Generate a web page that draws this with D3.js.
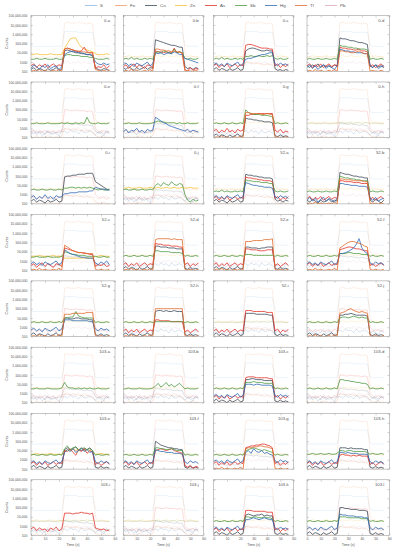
<!DOCTYPE html>
<html lang="en">
<head>
<meta charset="utf-8">
<title>Signal counts vs time</title>
<style>
  body { margin: 0; background: #fff; }
  svg { display: block; font-family: "Liberation Sans", Arial, sans-serif; }
  .frame { fill: none; stroke: #8c8c8c; stroke-width: 0.5px; }
  .axis path { display: none; }
  .axis line { stroke: #8c8c8c; stroke-width: 0.4px; }
  .axis text { font-size: 3.4px; fill: #555; }
  .lbl { font-size: 3.6px; fill: #555; }
</style>
</head>
<body>
<div id="vis"></div>
<script src="https://cdn.jsdelivr.net/npm/d3@7"></script>
<script>
// values are log10(counts) x 10, sampled every 2 s
const panelLabels = ["0-a","0-b","0-c","0-d","0-e","0-f","0-g","0-h","0-i","0-j","52-a","52-b",
  "52-c","52-d","52-e","52-f","52-g","52-h","52-i","52-j","103-a","103-b","103-c","103-d",
  "103-e","103-f","103-g","103-h","103-i","103-j","103-k","103-l"];
const elements = ["S","Fe","Cu","Zn","As","Sb","Hg","Tl","Pb"];
const elementColors = ["#8fb9e3","#f19c6a","#3d4b5c","#f2c038","#e2322b","#4f9a45","#2f69b3","#e0692a","#d9a7bb"];
const times = [0,2,4,6,8,10,12,14,16,18,20,22,24,26,28,30,32,34,36,38,40,42,44,46,48,50,52,54,56];
const xTicks = [0,10,20,30,40,50,60];
const yTicks = [1e2,1e3,1e4,1e5,1e6,1e7,1e8];
const yTickLabels = ["100","1000","10,000","100,000","1,000,000","10,000,000","100,000,000"];

// faint traces drawn for every element that is not highlighted in a panel
const fadedTraces = {
  S:  [47,47,47,47,47,47,47,47,47,47,47,47, 63,63,63,63,63,62,62,62,62,62,62, 48,47,47,47,47,47],
  Fe: [35,36,35,35,36,35,35,36,35,35,36,35, 72,73,72,72,72,73,72,72,71,72,71, 40,36,35,36,35,35],
  Cu: [26,24,27,25,26,23,27,25,24,26,25,27, 36,35,35,34,35,34,34,33,34,33,33, 27,25,26,24,27,25],
  Zn: [36,36,37,36,36,36,36,37,36,36,36,36, 36,37,36,36,37,36,36,36,37,36,36, 36,36,37,36,36,36],
  As: [26,28,25,27,26,28,25,26,27,25,28,26, 50,50,49,49,50,49,49,49,48,49,48, 30,27,26,28,25,27],
  Sb: [35,35,36,35,35,35,36,35,35,35,35,36, 36,36,35,36,36,35,36,36,35,36,36, 35,35,36,35,35,35],
  Hg: [24,27,23,26,22,25,27,23,26,24,22,26, 27,25,28,26,27,24,28,25,26,27,25, 23,26,24,22,27,24],
  Tl: [21,20,22,20,21,20,22,21,20,21,20,22, 30,29,29,28,29,28,28,27,28,27,27, 22,21,20,22,20,21],
  Pb: [26,29,25,28,27,24,29,26,28,25,27,29, 29,31,28,30,29,31,28,30,29,28,30, 27,25,28,26,29,25]
};

const boldCu = {
  "0-a":  [22,24,21,23,22,20,23,21,22,24,21,22, 42,43,42,41,40,40,39,39,38,38,37, 24,22,21,23,22,21],
  "0-b":  [24,22,25,23,21,24,22,23,25,22,24,23, 54,53,52,51,50,49,48,48,47,46,46, 25,23,24,22,24,23],
  "0-c":  [22,24,21,23,22,20,23,21,22,24,21,22, 42,44,45,45,44,43,42,42,43,42,42, 23,21,22,20,22,21],
  "0-d":  [26,24,27,25,28,24,27,25,26,24,27,25, 56,55,55,54,53,53,52,51,51,50,49, 26,24,27,25,26,24],
  "0-g":  [22,24,21,23,22,20,23,21,22,24,21,22, 41,40,40,39,39,38,38,37,37,37,36, 22,21,23,21,22,21],
  "0-i":  [23,25,22,24,23,21,24,22,23,25,22,23, 49,50,50,51,51,52,52,52,53,53,53, 44,42,40,38,36,35],
  "52-a": [23,25,22,24,23,21,24,22,23,25,22,23, 52,51,51,50,50,49,49,48,48,48,47, 25,23,24,22,24,23],
  "52-b": [24,22,25,23,21,24,22,23,25,22,24,23, 54,53,52,52,51,50,50,49,49,48,48, 24,22,25,23,21,24],
  "52-d": [22,24,21,23,22,20,23,21,22,24,21,22, 46,46,45,45,45,44,44,44,43,43,43, 22,21,23,21,22,21],
  "52-e": [22,24,21,23,22,20,23,21,22,24,21,22, 45,45,44,44,44,43,44,44,45,45,45, 22,21,23,21,22,21],
  "52-g": [22,24,21,23,22,20,23,21,22,24,21,22, 40,40,39,39,40,40,39,39,39,38,38, 22,21,23,21,22,21],
  "52-h": [22,24,21,23,22,20,23,21,22,24,21,22, 47,48,48,47,48,47,47,48,47,47,47, 22,21,23,21,22,21],
  "52-i": [22,24,21,23,22,20,23,21,22,24,21,22, 45,45,45,45,44,44,44,44,44,43,43, 22,21,23,21,22,21],
  "52-j": [22,24,21,23,22,20,23,21,22,24,21,22, 43,43,44,44,45,44,43,43,43,43,42, 22,21,23,21,22,21],
  "103-c": [22,24,21,23,22,20,23,21,22,24,21,22, 45,45,46,46,45,45,45,44,44,44,44, 22,21,23,21,22,21],
  "103-e": [22,24,21,23,22,20,23,21,22,24,21,22, 41,43,40,42,44,41,40,42,41,43,40, 22,21,23,21,22,21],
  "103-f": [22,24,21,23,22,20,23,21,22,24,21,22, 50,48,46,45,44,43,43,42,42,41,41, 22,21,23,21,22,21],
  "103-h": [22,24,21,23,22,20,23,21,22,24,21,22, 43,43,43,42,43,42,42,42,42,41,41, 22,21,23,21,22,21],
  "103-k": [22,24,21,23,22,20,23,21,22,24,21,22, 42,43,42,41,42,42,43,41,42,41,41, 22,21,23,21,22,21],
  "103-l": [22,24,21,23,22,20,23,21,22,24,21,22, 50,50,49,49,48,48,48,47,47,47,46, 22,21,23,21,22,21]
};

const boldZn = {
  "0-a":  [38,38,39,38,38,38,38,39,38,38,38,38, 45,50,55,56,56,50,46,44,43,42,41, 39,38,38,38,39,38],
  "0-j":  [37,37,38,37,37,37,38,37,37,37,38,37, 37,38,37,37,38,37,37,38,37,37,38, 37,37,38,37,37,37],
  "52-c": [35,35,35,36,35,35,35,35,36,35,35,35, 33,33,33,33,33,33,33,33,33,33,33, 35,35,36,35,35,35],
  "103-e": [36,36,37,36,36,36,36,37,36,36,36,36, 39,41,40,42,40,41,43,40,41,40,39, 36,36,37,36,36,36]
};

const boldAs = {
  "0-a":  [26,28,24,27,25,28,24,26,28,25,27,26, 44,45,44,43,42,41,42,46,41,40,40, 23,25,24,27,23,26],
  "0-b":  [25,27,23,26,28,24,27,25,23,27,26,24, 42,41,41,40,41,40,40,45,40,41,39, 22,20,24,21,23,22],
  "0-c":  [26,28,24,27,25,28,24,26,28,25,27,26, 48,49,49,48,47,46,45,45,45,44,44, 26,28,24,27,25,28],
  "0-d":  [26,28,24,27,25,28,24,26,28,25,27,26, 46,45,45,44,44,43,43,44,42,42,41, 25,27,24,26,28,25],
  "0-g":  [27,29,25,28,26,30,26,28,25,29,27,28, 44,44,45,45,45,46,46,46,46,46,46, 28,26,29,25,27,26],
  "52-a": [26,28,24,27,25,28,24,26,28,25,27,26, 49,48,48,47,47,46,46,45,45,45,44, 26,28,24,27,25,28],
  "52-b": [26,28,24,27,25,28,24,26,28,25,27,26, 45,45,44,44,44,43,43,43,42,42,42, 25,27,24,26,28,25],
  "52-c": [25,27,23,26,28,24,27,25,23,27,26,24, 44,43,42,41,40,39,39,38,38,37,37, 24,26,25,27,24,25],
  "52-d": [26,28,24,27,25,28,24,26,28,25,27,26, 49,48,48,47,47,47,46,46,46,45,45, 26,28,24,27,25,28],
  "52-e": [26,28,24,27,25,28,24,26,28,25,27,26, 43,43,42,42,42,41,41,41,42,42,42, 25,27,24,26,28,25],
  "52-f": [26,28,24,27,25,28,24,26,28,25,27,26, 42,43,44,45,45,44,43,43,42,41,41, 25,27,24,26,28,25],
  "52-h": [26,28,24,27,25,28,24,26,28,25,27,26, 38,38,37,37,37,37,36,36,36,36,36, 25,27,24,26,28,25],
  "52-i": [26,28,24,27,25,28,24,26,28,25,27,26, 48,48,48,47,47,47,47,47,46,46,46, 26,28,24,27,25,28],
  "103-c": [26,28,24,27,25,28,24,26,28,25,27,26, 47,48,48,48,47,47,47,47,47,46,46, 26,28,24,27,25,28],
  "103-e": [26,28,24,27,25,28,24,26,28,25,27,26, 40,39,42,38,35,41,39,42,37,40,38, 25,27,24,26,28,25],
  "103-f": [26,28,24,27,25,28,24,26,28,25,27,26, 40,41,42,41,40,41,42,40,39,38,37, 24,22,24,21,23,22],
  "103-g": [26,28,24,27,25,28,24,26,28,25,27,26, 43,44,45,45,46,46,47,47,46,45,43, 26,28,24,27,25,28],
  "103-h": [26,28,24,27,25,28,24,26,28,25,27,26, 35,36,35,35,34,35,34,35,34,34,34, 25,27,24,26,28,25],
  "103-i": [27,29,25,28,26,27,24,28,26,29,25,27, 44,44,44,43,44,44,45,44,44,43,44, 28,27,26,27,25,26],
  "103-k": [26,28,24,27,25,28,24,26,28,25,27,26, 47,47,47,46,46,46,46,46,45,45,45, 26,28,24,27,25,28]
};

const boldSb = {
  "0-a":  [33,33,34,33,33,34,33,33,33,34,33,33, 37,38,38,37,37,37,36,36,36,35,35, 34,33,33,33,34,33],
  "0-b":  [33,34,33,35,33,34,33,33,34,33,34,33, 40,41,40,42,41,40,39,44,40,41,40, 34,33,34,33,33,34],
  "0-c":  [33,34,33,35,33,34,33,33,34,33,34,33, 36,36,37,36,36,37,36,36,37,36,37, 34,33,34,33,33,34],
  "0-d":  [33,34,33,33,34,33,33,34,33,33,34,33, 48,47,47,46,46,45,45,44,44,44,43, 33,34,33,33,34,33],
  "0-e":  [35,35,36,35,35,35,36,35,35,35,35,36, 35,36,35,35,36,35,36,35,42,36,35, 35,36,35,35,35,36],
  "0-f":  [35,35,36,35,35,35,36,35,35,35,35,36, 37,38,37,37,36,36,36,36,35,36,35, 35,36,35,35,35,36],
  "0-g":  [35,36,35,35,36,35,35,36,35,35,36,35, 50,47,46,45,45,45,44,44,44,43,43, 35,36,35,35,36,35],
  "0-i":  [35,36,35,35,36,35,35,36,35,35,36,35, 37,37,38,38,37,38,37,38,37,38,37, 36,35,36,35,35,36],
  "0-j":  [35,36,35,35,36,35,35,36,35,35,36,35, 40,42,39,43,41,40,44,41,40,42,41, 30,24,22,25,23,24],
  "52-a": [33,34,33,35,33,34,33,33,34,33,34,33, 46,45,45,44,44,44,43,43,43,42,42, 34,33,34,33,33,34],
  "52-b": [33,34,33,33,34,33,33,34,33,33,34,33, 50,49,48,48,47,47,46,46,45,45,45, 33,34,33,33,34,33],
  "52-c": [34,34,35,34,34,34,35,34,34,34,34,35, 40,39,38,37,37,36,36,36,35,35,35, 35,34,34,35,34,34],
  "52-d": [35,36,35,35,36,35,35,36,35,35,36,35, 41,41,40,40,40,40,39,39,39,39,38, 35,36,35,35,36,35],
  "52-e": [35,36,35,35,36,35,35,36,35,35,36,35, 37,37,37,36,36,36,36,36,36,36,36, 35,36,35,35,36,35],
  "52-f": [35,36,35,35,36,35,35,36,35,35,36,35, 38,38,38,39,39,38,38,38,37,37,37, 35,36,35,35,36,35],
  "52-g": [35,36,35,35,36,35,35,36,35,35,36,35, 40,40,41,41,47,42,41,40,40,40,40, 35,36,35,35,36,35],
  "52-h": [35,36,35,35,36,35,35,36,35,35,36,35, 36,36,36,36,36,36,36,36,36,36,36, 35,36,35,35,36,35],
  "52-j": [35,36,35,35,36,35,35,36,35,35,36,35, 40,41,41,40,41,42,41,40,41,40,40, 35,36,35,35,36,35],
  "103-a": [35,35,36,35,35,35,36,35,35,35,35,36, 42,37,36,36,35,36,35,36,35,36,35, 35,36,35,35,35,36],
  "103-b": [35,35,36,35,35,35,36,35,35,35,35,36, 38,41,37,39,42,38,40,37,39,41,38, 35,36,35,35,35,36],
  "103-c": [35,36,35,35,36,35,35,36,35,35,36,35, 42,42,42,43,42,42,42,41,41,41,41, 35,36,35,35,36,35],
  "103-d": [35,36,35,35,36,35,35,36,35,35,36,35, 45,45,44,44,43,43,42,42,41,41,40, 35,36,35,35,36,35],
  "103-e": [35,36,35,35,36,35,35,36,35,35,36,35, 42,45,41,43,44,40,42,43,41,42,40, 35,36,35,35,36,35],
  "103-f": [35,36,35,35,36,35,35,36,35,35,36,35, 43,43,42,42,41,41,42,41,40,40,40, 35,36,35,35,36,35],
  "103-g": [35,36,35,35,36,35,35,36,35,35,36,35, 40,41,42,43,42,41,40,41,40,39,38, 35,36,35,35,36,35],
  "103-h": [36,36,37,36,36,37,36,36,37,36,36,37, 40,40,39,40,40,39,39,39,39,39,38, 36,37,36,36,37,36],
  "103-k": [35,36,35,35,36,35,35,36,35,35,36,35, 40,40,39,40,40,39,39,40,39,39,38, 35,36,35,35,36,35],
  "103-l": [35,36,35,35,36,35,35,36,35,35,36,35, 40,40,40,39,39,39,39,39,38,38,38, 35,36,35,35,36,35]
};

const boldHg = {
  "0-a":  [23,27,25,22,26,24,27,23,25,26,22,25, 38,40,41,42,41,40,40,39,38,38,37, 30,28,27,29,27,28],
  "0-b":  [27,29,26,28,25,29,27,26,28,30,26,28, 40,39,40,38,39,40,39,41,40,38,38, 34,33,32,31,30,29],
  "0-c":  [27,29,26,28,25,29,27,26,28,30,26,28, 33,34,34,35,36,37,38,38,39,40,40, 28,26,29,27,28,26],
  "0-d":  [24,27,23,26,22,25,27,23,26,24,22,26, 44,43,42,42,41,41,40,40,40,39,39, 26,24,27,23,25,26],
  "0-f":  [26,29,25,28,27,30,26,28,25,29,27,28, 42,40,38,36,35,33,32,31,30,29,28, 27,29,26,28,27,26],
  "0-i":  [27,29,25,28,26,30,26,28,25,29,27,28, 31,31,32,32,32,33,33,33,33,34,34, 38,37,36,36,35,35],
  "52-a": [27,29,26,28,25,29,27,26,28,30,26,28, 43,42,41,40,40,39,39,38,38,38,37, 28,26,29,27,28,26],
  "52-b": [24,27,23,26,22,25,27,23,26,24,22,26, 42,42,41,41,40,40,40,39,39,39,38, 26,24,27,23,25,26],
  "52-c": [27,29,26,28,25,29,27,26,28,30,26,28, 42,40,38,37,36,35,34,34,33,33,33, 28,26,29,27,30,26],
  "52-f": [27,29,26,28,25,29,27,26,28,30,26,28, 38,38,39,40,42,44,48,54,44,40,38, 28,26,29,27,28,26],
  "52-g": [27,29,26,28,25,29,27,26,28,30,26,28, 38,38,38,37,37,37,37,37,37,36,36, 28,26,29,27,28,26],
  "103-c": [27,29,26,28,25,29,27,26,28,30,26,28, 40,40,40,39,40,40,39,39,39,39,38, 28,26,29,27,28,26],
  "103-e": [27,29,26,28,25,29,27,26,28,30,26,28, 38,41,39,42,38,40,43,39,41,38,39, 28,26,29,27,28,26],
  "103-f": [27,29,26,28,25,29,27,26,28,30,26,28, 41,40,39,39,38,38,38,37,37,37,36, 28,26,29,27,28,26],
  "103-g": [28,30,27,29,26,30,28,27,29,31,27,29, 38,40,37,42,39,38,40,37,38,36,35, 29,27,30,28,29,27],
  "103-h": [27,29,26,28,25,29,27,26,28,30,26,28, 38,38,37,38,37,37,37,36,36,36,36, 28,26,29,27,28,26],
  "103-k": [27,29,26,28,25,29,27,26,28,30,26,28, 37,37,38,39,38,37,38,39,38,37,37, 28,26,29,27,28,26],
  "103-l": [27,29,26,28,25,29,27,26,28,30,26,28, 43,42,42,41,41,41,40,40,40,39,39, 28,26,29,27,28,26]
};

const boldTl = {
  "0-a":  [20,21,20,22,20,21,20,20,21,20,22,20, 44,45,44,43,42,42,41,41,40,40,40, 22,21,20,21,20,21],
  "0-b":  [20,21,20,22,20,21,20,20,21,20,22,20, 44,44,43,43,42,42,41,42,41,41,40, 20,21,20,20,21,20],
  "0-d":  [20,21,20,22,20,21,20,20,21,20,22,20, 42,42,41,41,40,40,41,42,40,39,39, 20,21,20,20,21,20],
  "0-g":  [20,21,20,22,20,21,20,20,21,20,22,20, 47,47,46,46,46,46,45,45,46,45,45, 20,21,20,20,21,20],
  "52-b": [20,21,20,22,20,21,20,20,21,20,22,20, 47,47,46,46,46,45,45,45,45,44,44, 20,21,20,20,21,20],
  "52-c": [20,21,20,22,20,21,20,20,21,20,22,20, 47,45,43,41,40,39,39,39,38,38,38, 21,20,21,20,20,21],
  "52-d": [20,21,20,22,20,21,20,20,21,20,22,20, 53,54,54,54,54,54,53,54,53,53,53, 21,20,21,20,20,21],
  "52-e": [20,21,20,22,20,21,20,20,21,20,22,20, 51,51,51,52,52,52,52,53,53,53,54, 21,20,21,20,20,21],
  "52-f": [20,21,20,22,20,21,20,20,21,20,22,20, 44,46,48,50,51,51,50,49,48,46,45, 21,20,21,20,20,21],
  "52-g": [20,21,20,22,20,21,20,20,21,20,22,20, 44,44,44,45,45,45,45,45,46,46,46, 21,20,21,20,20,21],
  "52-h": [20,21,20,22,20,21,20,20,21,20,22,20, 50,50,50,50,50,50,50,50,50,50,50, 21,20,21,20,20,21],
  "52-j": [20,21,20,22,20,21,20,20,21,20,22,20, 45,46,47,49,50,48,47,46,47,46,45, 21,20,21,20,20,21],
  "103-g": [20,21,20,22,20,21,20,20,21,20,22,20, 42,43,43,44,44,45,45,44,44,43,42, 21,20,21,20,20,21]
};

const boldTraces = { S: {}, Fe: {}, Cu: boldCu, Zn: boldZn, As: boldAs, Sb: boldSb, Hg: boldHg, Tl: boldTl, Pb: {} };

// layout
const W = 397, H = 550;
const colLeft = [31, 123.3, 213.7, 307];
const colRight = [115, 203.7, 293.7, 389.3];
const rowTop = 15.7, rowPitch = 66.3, panelH = 55.6;

const svg = d3.select("#vis").append("svg").attr("width", W).attr("height", H);
const toCounts = v => Math.pow(10, v / 10);

// legend
const legend = svg.append("g");
elements.forEach((el, i) => {
  const lx = 85 + i * 30;
  legend.append("line").attr("x1", lx).attr("x2", lx + 12).attr("y1", 5.5).attr("y2", 5.5)
    .attr("stroke", elementColors[i]).attr("stroke-width", 0.8);
  legend.append("text").attr("x", lx + 15).attr("y", 7).attr("class", "lbl")
    .style("font-size", "4.4px").text(el);
});

panelLabels.forEach((label, i) => {
  const c = i % 4, r = Math.floor(i / 4);
  const top = rowTop + r * rowPitch, bottom = top + panelH;
  const x = d3.scaleLinear().domain([0, 60]).range([colLeft[c], colRight[c]]);
  const y = d3.scaleLog().domain([100, 1e8]).range([bottom, top]);
  const g = svg.append("g");

  g.append("clipPath").attr("id", "clip" + i).append("rect")
    .attr("x", x(0)).attr("y", top).attr("width", x(60) - x(0)).attr("height", panelH);

  const line = d3.line().x((d, j) => x(times[j])).y(d => y(toCounts(d)));
  const lines = g.append("g").attr("clip-path", `url(#clip${i})`).attr("fill", "none");

  elements.forEach((el, k) => {
    if (boldTraces[el][label]) return;
    lines.append("path").attr("d", line(fadedTraces[el]))
      .attr("stroke", elementColors[k]).attr("stroke-opacity", 0.35).attr("stroke-width", 0.5);
  });
  elements.forEach((el, k) => {
    const data = boldTraces[el][label];
    if (!data) return;
    lines.append("path").attr("d", line(data))
      .attr("stroke", elementColors[k]).attr("stroke-width", 0.8).attr("stroke-linejoin", "round");
  });

  g.append("rect").attr("class", "frame").attr("x", x(0)).attr("y", top)
    .attr("width", x(60) - x(0)).attr("height", panelH);

  const last = r === 7;
  g.append("g").attr("class", "axis").attr("transform", `translate(0,${bottom})`)
    .call(d3.axisBottom(x).tickValues(xTicks).tickSize(-1.8).tickPadding(2.3)
      .tickFormat(d => last ? d : ""));
  g.append("g").attr("class", "axis").attr("transform", `translate(0,${top})`)
    .call(d3.axisTop(x).tickValues(xTicks).tickSize(-1.8).tickFormat(""));
  g.append("g").attr("class", "axis").attr("transform", `translate(${x(0)},0)`)
    .call(d3.axisLeft(y).tickValues(yTicks).tickSize(-1.8).tickPadding(3.6)
      .tickFormat((d, j) => c === 0 ? yTickLabels[j] : ""));
  g.append("g").attr("class", "axis").attr("transform", `translate(${x(60)},0)`)
    .call(d3.axisRight(y).tickValues(yTicks).tickSize(-1.8).tickFormat(""));
  g.selectAll(".axis").attr("font-size", null).attr("font-family", null);

  g.append("text").attr("class", "lbl").attr("x", x(60) - 5).attr("y", top + 6)
    .attr("text-anchor", "end").style("font-size", "4.2px").text(label);

  if (c === 0) {
    g.append("text").attr("class", "lbl")
      .attr("transform", `translate(7.5,${top + panelH / 2}) rotate(-90)`)
      .attr("text-anchor", "middle").text("Counts");
  }
  if (last) {
    g.append("text").attr("class", "lbl").attr("x", (x(0) + x(60)) / 2).attr("y", 546)
      .attr("text-anchor", "middle").text("Time (s)");
  }
});
</script>
</body>
</html>
